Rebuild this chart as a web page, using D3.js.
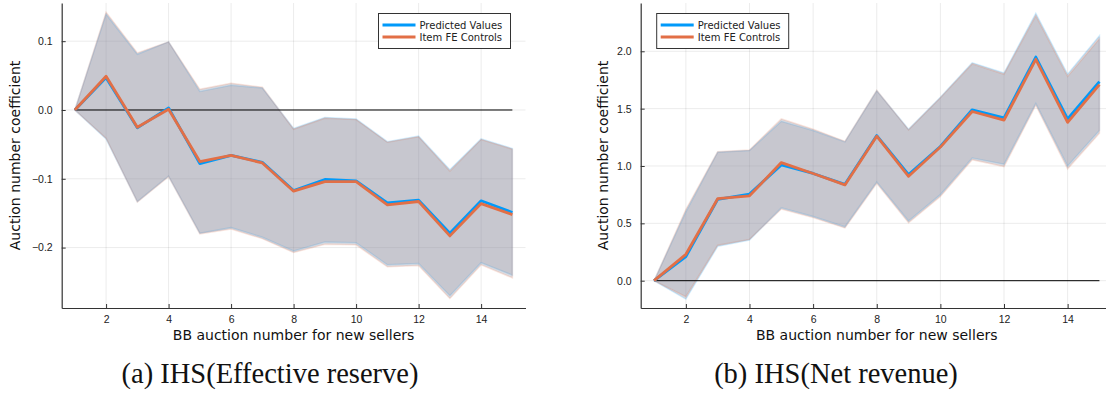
<!DOCTYPE html>
<html>
<head>
<meta charset="utf-8">
<script src="https://cdn.jsdelivr.net/npm/d3@7"></script>
<style>
  body { margin: 0; background: #fff; }
  svg { display: block; }
</style>
</head>
<body>
<div id="chart"></div>
<script>
// auction number on the x axis (both panels)
const auctionNumber = d3.range(1, 16);
const xTicks = [2, 4, 6, 8, 10, 12, 14];

// (a) IHS(Effective reserve)
const effPred   = [0, 0.047, -0.026, 0.003, -0.078, -0.066, -0.076, -0.117, -0.101, -0.103, -0.135, -0.131, -0.179, -0.132, -0.149];
const effPredHi = [0, 0.139, 0.081, 0.099, 0.027, 0.036, 0.032, -0.027, -0.011, -0.013, -0.046, -0.038, -0.087, -0.042, -0.056];
const effPredLo = [0, -0.042, -0.133, -0.096, -0.179, -0.171, -0.185, -0.205, -0.192, -0.193, -0.225, -0.223, -0.270, -0.222, -0.240];
const effItem   = [0, 0.049, -0.025, 0.001, -0.075, -0.066, -0.077, -0.118, -0.104, -0.104, -0.138, -0.133, -0.183, -0.136, -0.152];
const effItemHi = [0, 0.142, 0.083, 0.099, 0.030, 0.039, 0.033, -0.028, -0.012, -0.014, -0.047, -0.039, -0.089, -0.043, -0.057];
const effItemLo = [0, -0.041, -0.134, -0.097, -0.180, -0.173, -0.187, -0.207, -0.195, -0.196, -0.228, -0.226, -0.274, -0.225, -0.244];
const effYTicks = [-0.2, -0.1, 0.0, 0.1];

// (b) IHS(Net revenue)
const revPred   = [0, 0.21, 0.71, 0.755, 1.01, 0.935, 0.84, 1.265, 0.925, 1.17, 1.49, 1.42, 1.95, 1.41, 1.735];
const revPredHi = [0, 0.60, 1.12, 1.135, 1.39, 1.31, 1.21, 1.655, 1.32, 1.60, 1.90, 1.81, 2.33, 1.80, 2.135];
const revPredLo = [0, -0.16, 0.30, 0.355, 0.635, 0.56, 0.47, 0.86, 0.52, 0.75, 1.07, 1.015, 1.545, 1.00, 1.31];
const revItem   = [0, 0.23, 0.715, 0.74, 1.03, 0.935, 0.835, 1.26, 0.91, 1.165, 1.475, 1.40, 1.93, 1.38, 1.71];
const revItemHi = [0, 0.62, 1.125, 1.14, 1.41, 1.32, 1.215, 1.66, 1.315, 1.595, 1.89, 1.80, 2.31, 1.78, 2.11];
const revItemLo = [0, -0.14, 0.31, 0.36, 0.625, 0.55, 0.46, 0.85, 0.505, 0.735, 1.055, 0.995, 1.53, 0.975, 1.285];
const revYTicks = [0.0, 0.5, 1.0, 1.5, 2.0];

const seriesNames = ["Predicted Values", "Item FE Controls"];
const colors = ["#009afa", "#e26f46"];

const width = 1106, height = 394;

const svg = d3.select("#chart").append("svg")
    .attr("width", width)
    .attr("height", height)
    .attr("viewBox", [0, 0, width, height])
    .attr("font-family", "'DejaVu Sans', sans-serif");

const fmt = d => d3.format(".1f")(d).replace("-", "\u2212");

function panel({left, right, top = 3, bottom = 308, yDomain, yTicks, series, legendX, caption, captionX, ylabelX}) {
  const x = d3.scaleLinear().domain([0.58, 15.42]).range([left, right]);
  const y = d3.scaleLinear().domain(yDomain).range([bottom, top]);

  const g = svg.append("g");

  // grid
  g.append("g").selectAll("line").data(xTicks).join("line")
      .attr("x1", d => x(d)).attr("x2", d => x(d))
      .attr("y1", top).attr("y2", bottom)
      .attr("stroke", "#000").attr("stroke-opacity", 0.08);
  g.append("g").selectAll("line").data(yTicks).join("line")
      .attr("x1", left).attr("x2", right)
      .attr("y1", d => y(d)).attr("y2", d => y(d))
      .attr("stroke", "#000").attr("stroke-opacity", 0.08);

  // ribbons
  const area = d3.area()
      .x((d, i) => x(auctionNumber[i]))
      .y0(d => y(d[0]))
      .y1(d => y(d[1]));
  series.forEach((s, k) => {
    const band = s.lo.map((v, i) => [v, s.hi[i]]);
    g.append("path")
        .attr("d", area(band))
        .attr("fill", "#9192a3")
        .attr("fill-opacity", 0.3)
        .attr("stroke", colors[k])
        .attr("stroke-opacity", 0.18)
        .attr("stroke-width", 1.5);
  });

  // zero line
  g.append("line")
      .attr("x1", x(1)).attr("x2", x(15))
      .attr("y1", y(0)).attr("y2", y(0))
      .attr("stroke", "#000").attr("stroke-width", 1);

  // series lines
  const line = d3.line().x((d, i) => x(auctionNumber[i])).y(d => y(d));
  series.forEach((s, k) => {
    g.append("path")
        .attr("d", line(s.mid))
        .attr("fill", "none")
        .attr("stroke", colors[k])
        .attr("stroke-width", 2.8)
        .attr("stroke-linejoin", "round");
  });

  // axes (ticks point inward)
  g.append("g")
      .attr("transform", `translate(0,${bottom})`)
      .call(d3.axisBottom(x).tickValues(xTicks).tickSize(-4).tickPadding(8).tickSizeOuter(0))
      .call(a => a.select(".domain").attr("stroke", "#333").attr("stroke-width", 1.2))
      .call(a => a.selectAll(".tick line").attr("stroke", "#333"))
      .call(a => a.selectAll("text").attr("font-size", 10.5).attr("fill", "#222"));
  g.append("g")
      .attr("transform", `translate(${left},0)`)
      .call(d3.axisLeft(y).tickValues(yTicks).tickFormat(fmt).tickSize(-4).tickPadding(9).tickSizeOuter(0))
      .call(a => a.select(".domain").attr("stroke", "#333").attr("stroke-width", 1.2))
      .call(a => a.selectAll(".tick line").attr("stroke", "#333"))
      .call(a => a.selectAll("text").attr("font-size", 10.5).attr("fill", "#222"));

  // axis labels
  g.append("text")
      .attr("x", (left + right) / 2)
      .attr("y", 340)
      .attr("text-anchor", "middle")
      .attr("font-size", 14)
      .attr("fill", "#111")
      .text("BB auction number for new sellers");
  g.append("text")
      .attr("transform", `translate(${ylabelX},${(top + bottom) / 2}) rotate(-90)`)
      .attr("text-anchor", "middle")
      .attr("font-size", 14)
      .attr("fill", "#111")
      .text("Auction number coefficient");

  // legend
  const lg = g.append("g").attr("transform", `translate(${legendX},13.5)`);
  lg.append("rect")
      .attr("width", 132).attr("height", 35)
      .attr("fill", "#fff").attr("stroke", "#333").attr("stroke-width", 1);
  seriesNames.forEach((name, k) => {
    const yy = 11.5 + k * 12;
    lg.append("line")
        .attr("x1", 4).attr("x2", 37).attr("y1", yy).attr("y2", yy)
        .attr("stroke", colors[k]).attr("stroke-width", 3);
    lg.append("text")
        .attr("x", 41).attr("y", yy).attr("dy", "0.35em")
        .attr("font-size", 10).attr("fill", "#222")
        .text(name);
  });

  // caption
  svg.append("text")
      .attr("x", captionX)
      .attr("y", 383)
      .attr("text-anchor", "middle")
      .attr("font-family", "'Liberation Serif', 'DejaVu Serif', serif")
      .attr("font-size", 28.5)
      .attr("fill", "#111")
      .text(caption);
}

panel({
  left: 61.7, right: 525.5,
  yDomain: [-0.2878, 0.1555], yTicks: effYTicks,
  series: [
    {mid: effPred, lo: effPredLo, hi: effPredHi},
    {mid: effItem, lo: effItemLo, hi: effItemHi}
  ],
  legendX: 378.5, caption: "(a) IHS(Effective reserve)", captionX: 270, ylabelX: 20
});

panel({
  left: 640.7, right: 1112.8,
  yDomain: [-0.238, 2.421], yTicks: revYTicks,
  series: [
    {mid: revPred, lo: revPredLo, hi: revPredHi},
    {mid: revItem, lo: revItemLo, hi: revItemHi}
  ],
  legendX: 656.7, caption: "(b) IHS(Net revenue)", captionX: 836, ylabelX: 608
});
</script>
</body>
</html>
